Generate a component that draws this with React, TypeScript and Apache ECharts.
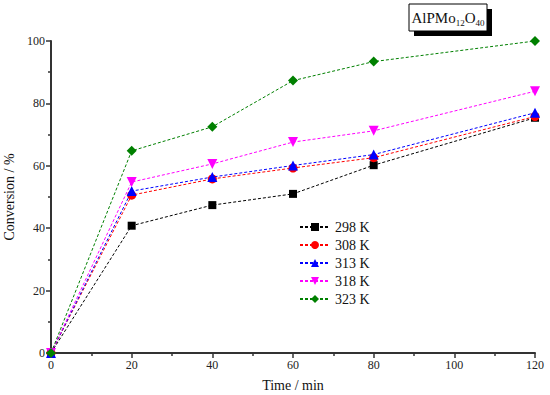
import React, { useEffect, useRef } from "react";
import * as echarts from "echarts";

const times = [0, 20, 40, 60, 80, 120];
const seriesNames = ["298 K", "308 K", "313 K", "318 K", "323 K"];
const v298 = [0, 40.8, 47.4, 51.0, 60.2, 75.4];
const v308 = [0, 50.6, 55.8, 59.3, 62.6, 75.8];
const v313 = [0, 51.9, 56.4, 60.1, 63.6, 77.0];
const v318 = [0, 54.8, 60.6, 67.6, 71.2, 83.9];
const v323 = [0, 64.8, 72.5, 87.3, 93.4, 100.0];
const colors = ["#000000", "#ff0000", "#0000ff", "#ff00ff", "#008000"];
const symbols = ["rect", "circle", "triangle", "triangle", "diamond"];
const rotations = [0, 0, 0, 180, 0];
const sizes = [8, 9, 10, 10, 10];
const allValues = [v298, v308, v313, v318, v323];

const FONT = "Liberation Serif";

export default function App() {
  const ref = useRef<HTMLDivElement>(null);
  useEffect(() => {
    const chart = echarts.init(ref.current!, null, { renderer: "svg" });
    const series = seriesNames.map((name, i) => ({
      name,
      type: "line",
      data: times.map((t, j) => [t, allValues[i][j]]),
      symbol: symbols[i],
      symbolRotate: rotations[i],
      symbolSize: sizes[i],
      showAllSymbol: true,
      clip: false,
      itemStyle: { color: colors[i] },
      lineStyle: { color: colors[i], width: 1, type: [3, 2] },
      z: 2 + i,
    }));
    chart.setOption({
      animation: false,
      backgroundColor: "#ffffff",
      grid: { left: 51, right: 15, top: 41, bottom: 42, containLabel: false, outerBoundsMode: "none" },
      xAxis: {
        type: "value",
        min: 0,
        max: 120,
        interval: 20,
        name: "Time / min",
        nameLocation: "middle",
        nameGap: 25,
        nameTextStyle: { fontFamily: FONT, fontSize: 14, color: "#111" },
        axisLine: { show: true, onZero: false, lineStyle: { color: "#333", width: 2 } },
        axisTick: { show: true, inside: false, length: 5, lineStyle: { color: "#333", width: 1.5 } },
        minorTick: { show: true, splitNumber: 2, length: 3, lineStyle: { color: "#333", width: 1.5 } },
        axisLabel: { fontFamily: FONT, fontSize: 12, color: "#222", margin: 6 },
        splitLine: { show: false },
      },
      yAxis: {
        type: "value",
        min: 0,
        max: 100,
        interval: 20,
        name: "Conversion / %",
        nameLocation: "middle",
        nameGap: 30,
        nameTextStyle: { fontFamily: FONT, fontSize: 14, color: "#111" },
        axisLine: { show: true, onZero: false, lineStyle: { color: "#333", width: 2 } },
        axisTick: { show: true, inside: false, length: 5, lineStyle: { color: "#333", width: 1.5 } },
        minorTick: { show: true, splitNumber: 2, length: 3, lineStyle: { color: "#333", width: 1.5 } },
        axisLabel: { fontFamily: FONT, fontSize: 12, color: "#222", margin: 6 },
        splitLine: { show: false },
      },
      legend: {
        orient: "vertical",
        left: 294,
        top: 215,
        itemWidth: 30,
        itemHeight: 10,
        itemGap: 4,
        data: seriesNames,
        textStyle: { fontFamily: FONT, fontSize: 14, color: "#111" },
      },
      graphic: [
        { type: "rect", shape: { x: 414, y: 9, width: 78, height: 27 }, style: { fill: "#000" }, z: 10 },
        { type: "rect", shape: { x: 409, y: 4, width: 78, height: 27 }, style: { fill: "#fff", stroke: "#000", lineWidth: 1 }, z: 11 },
        {
          type: "text",
          x: 448,
          y: 18,
          z: 12,
          style: {
            text: "{a|AlPMo}{s|12}{a|O}{s|40}",
            align: "center",
            verticalAlign: "middle",
            rich: {
              a: { fontFamily: FONT, fontSize: 15, fill: "#111" },
              s: { fontFamily: FONT, fontSize: 9, fill: "#111", padding: [9, 0, 0, 0] },
            },
          },
        },
      ],
      series,
    });
    return () => chart.dispose();
  }, []);
  return (
    <div style={{ position: "absolute", left: 0, top: 0 }}>
      <div ref={ref} style={{ width: 550, height: 395 }} />
    </div>
  );
}
